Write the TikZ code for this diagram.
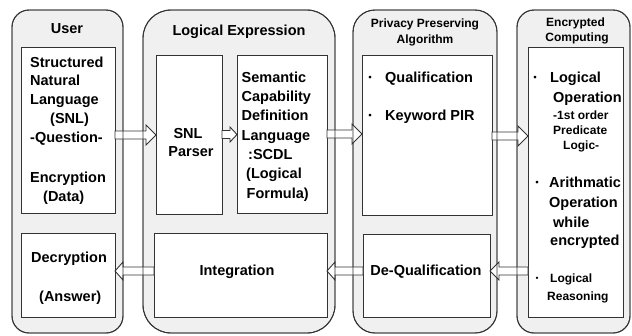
\documentclass[tikz,border=0pt]{standalone}
\usepackage{fontspec}
\setmainfont{Liberation Sans}
\newfontfamily\cjk{Noto Sans CJK JP}
\usetikzlibrary{calc}
\tikzset{
  col/.style={rectangle, draw=black!80, fill=black!6, line width=0.9pt, anchor=north west, inner sep=0pt, outer sep=0pt},
  inbox/.style={rectangle, draw=black!80, fill=white, line width=0.9pt, anchor=north west, inner sep=0pt, outer sep=0pt},
  t/.style={font=\bfseries\fontsize{14.5}{17}\selectfont, inner sep=0pt, anchor=base west},
  tc/.style={t, anchor=base},
  ts/.style={font=\bfseries\fontsize{12}{14}\selectfont, inner sep=0pt, anchor=base west},
  tsc/.style={ts, anchor=base},
  bul/.style={font=\cjk\mdseries\fontsize{13}{14}\selectfont, inner sep=0pt, anchor=base},
  bulsm/.style={font=\cjk\mdseries\fontsize{11}{12}\selectfont, inner sep=0pt, anchor=base},
  barrow/.style={draw=black!80, fill=white, line width=0.9pt, line join=miter},
  colline/.style={draw=black!80, line width=0.9pt},
}
% column: name, x, y, w, h, radius
\newcommand\colnode[6]{\node[col, minimum width=#4pt, minimum height=#5pt, rounded corners=#6pt] (#1) at (#2,#3) {};}
\newcommand\colline[2]{\draw[colline, rounded corners=#2pt] (#1.north west) rectangle (#1.south east);}
% inner box: name, x, y, w, h
\newcommand\inbox[5]{\node[inbox, minimum width=#4pt, minimum height=#5pt] (#1) at (#2,#3) {};}
% right arrow: from, to, y, head length, half head height
\newcommand\rarr[5]{\draw[barrow] let \p1=(#1.east), \p2=(#2.west) in
  (\x1,#3-4) -- ({\x2-#4},#3-4) -- ({\x2-#4},#3-#5) -- (\x2,#3) -- ({\x2-#4},#3+#5) -- ({\x2-#4},#3+4) -- (\x1,#3+4) -- cycle;}
% left arrow: from, to, y, head length, half head height
\newcommand\larr[5]{\draw[barrow] let \p1=(#1.west), \p2=(#2.east) in
  (\x1,#3-4) -- ({\x2+#4},#3-4) -- ({\x2+#4},#3-#5) -- (\x2,#3) -- ({\x2+#4},#3+#5) -- ({\x2+#4},#3+4) -- (\x1,#3+4) -- cycle;}
\begin{document}
\begin{tikzpicture}[x=1pt,y=-1pt]
\useasboundingbox (0,0) rectangle (632,335);
% columns
\colnode{cuser}{12}{10}{111}{323}{17}
\colnode{clog}{143}{10}{192}{323}{28}
\colnode{cpriv}{353}{10}{144}{323}{22}
\colnode{cenc}{517}{10}{113}{323}{17}
% inner boxes
\inbox{usr1}{21}{47}{94}{166}
\inbox{usr2}{21}{233}{94}{84}
\inbox{snl}{156}{55}{66}{159}
\inbox{scdl}{237}{55}{90}{158}
\inbox{integ}{154}{233}{173}{84}
\inbox{priv}{362}{55}{130}{160}
\inbox{dequal}{363}{234}{127}{83}
\inbox{enc}{528}{47}{95}{270}
% arrows
\rarr{usr1}{snl}{135}{10}{10}
\rarr{snl}{scdl}{134.5}{7}{7.5}
\rarr{scdl}{priv}{134}{10}{10}
\rarr{priv}{enc}{136}{10}{10}
\larr{enc}{dequal}{271}{9}{9}
\larr{dequal}{integ}{271}{8}{9}
\larr{integ}{usr2}{271}{8}{9}
% column outlines over arrows
\colline{cuser}{17}
\colline{clog}{28}
\colline{cpriv}{22}
\colline{cenc}{17}
% User
\node[tc] (hu) at (67,33) {User};
\node[t] (u1) at (30,67) {Structured};
\node[t] (u2) at (30,85.5) {Natural};
\node[t] (u3) at (30,104) {Language};
\node[t] (u4) at (50,123) {(SNL)};
\node[t] (u5) at (30,142) {-Question-};
\node[t] (u6) at (30,182) {Encryption};
\node[t] (u7) at (43,201) {(Data)};
\node[t] (u8) at (31,262) {Decryption};
\node[t] (u9) at (39,301) {(Answer)};
% Logical Expression
\node[tc] (hl) at (239,35) {Logical Expression};
\node[tc] (s1) at (188,138) {SNL};
\node[tc] (s2) at (191,156) {Parser};
\node[t] (c1) at (241.5,82) {Semantic};
\node[t] (c2) at (241.5,101.3) {Capability};
\node[t] (c3) at (241.5,120.7) {Definition};
\node[t] (c4) at (241.5,140) {Language};
\node[t] (c5) at (248,159.3) {:SCDL};
\node[t] (c6) at (246,178.7) {(Logical};
\node[t] (c7) at (246.5,198) {Formula)};
\node[tc] (ig) at (237,275) {Integration};
% Privacy Preserving Algorithm
\node[tsc] (hp1) at (425,27) {Privacy Preserving};
\node[tsc] (hp2) at (425,43.5) {Algorithm};
\node[bul] (pb1) at (370,82) {・};
\node[t] (p1) at (385,82) {Qualification};
\node[bul] (pb2) at (370,120) {・};
\node[t] (p2) at (385,120) {Keyword PIR};
\node[tc] (dq) at (426,275) {De-Qualification};
% Encrypted Computing
\node[tsc] (he1) at (575.5,26) {Encrypted};
\node[tsc] (he2) at (577,41) {Computing};
\node[bul] (eb1) at (535,82) {・};
\node[t] (e1) at (550,82) {Logical};
\node[t] (e2) at (553,102) {Operation};
\node[ts] (e3) at (553,119) {-1st order};
\node[ts] (e4) at (553,134) {Predicate};
\node[ts] (e5) at (563,149) {Logic-};
\node[bul] (eb2) at (537,187) {・};
\node[t] (e6) at (549,187) {Arithmatic};
\node[t] (e7) at (549,207) {Operation};
\node[t] (e8) at (553,227) {while};
\node[t] (e9) at (550,245) {encrypted};
\node[bulsm] (eb3) at (537,282) {・};
\node[ts] (e10) at (550,282) {Logical};
\node[ts] (e11) at (547,300) {Reasoning};
\end{tikzpicture}
\end{document}
